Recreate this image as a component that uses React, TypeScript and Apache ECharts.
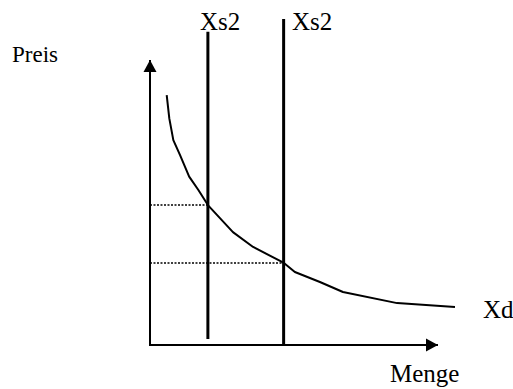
import React, { useEffect, useRef } from "react";
import * as echarts from "echarts";

// Demand curve (Menge, Preis) in chart units
const demandCurve: [number, number][] = [
  [0.58, 8.77], [0.67, 7.95], [0.81, 7.19], [1.04, 6.67], [1.36, 5.91],
  [1.68, 5.44], [2.01, 4.91], [2.88, 3.96], [3.58, 3.44], [4.65, 2.88],
  [5.03, 2.56], [5.9, 2.21], [6.7, 1.86], [8.58, 1.47], [10.59, 1.33],
];
// Supply lines: [x, yFrom, yTo]
const supplyLines: [number, number, number][] = [
  [2.01, 0.21, 10.99],
  [4.64, 0, 11.44],
];
// Dotted price guides: [price, quantity]
const priceGuides: [number, number][] = [
  [4.91, 2.01],
  [2.88, 4.64],
];
const axisEnd = 10;
const axisStart = -0.07;
const labels = { y: "Preis", x: "Menge", demand: "Xd", supply: "Xs2" };

const FONT = "'Liberation Serif', 'Times New Roman', serif";

export default function App() {
  const ref = useRef<HTMLDivElement>(null);
  useEffect(() => {
    const chart = echarts.init(ref.current!, null, { renderer: "svg" });
    const series: any[] = [];
    // axes
    series.push({
      type: "line",
      data: [
        { value: [axisStart, 0], symbol: "none" },
        {
          value: [axisEnd, 0],
          symbol: "triangle",
          symbolSize: [13, 12],
          symbolRotate: -90,
          symbolOffset: [-6, 0],
        },
      ],
      lineStyle: { color: "#000", width: 2 },
      itemStyle: { color: "#000" },
      silent: true,
    });
    series.push({
      type: "line",
      data: [
        { value: [0, 0], symbol: "none" },
        {
          value: [0, axisEnd],
          symbol: "triangle",
          symbolSize: [13, 12],
          symbolOffset: [0, 6],
        },
      ],
      lineStyle: { color: "#000", width: 2 },
      itemStyle: { color: "#000" },
      silent: true,
    });
    // dotted guides
    priceGuides.forEach(([p, q]) => {
      series.push({
        type: "line",
        data: [[0, p], [q, p]],
        showSymbol: false,
        lineStyle: { color: "#000", width: 1.5, type: [2, 1.5] },
        silent: true,
      });
    });
    // supply lines
    supplyLines.forEach(([x, y0, y1]) => {
      series.push({
        type: "line",
        data: [[x, y0], [x, y1]],
        showSymbol: false,
        lineStyle: { color: "#000", width: 3 },
        silent: true,
      });
    });
    // demand
    series.push({
      type: "line",
      data: demandCurve,
      showSymbol: false,
      smooth: false,
      lineStyle: { color: "#000", width: 2 },
      silent: true,
    });

    const txt = (id: string, text: string, x: number, y: number, size: number) => ({
      type: "text",
      id,
      x,
      y,
      style: {
        text,
        fill: "#000",
        fontSize: size,
        fontFamily: FONT,
        align: "left",
        verticalAlign: "middle",
      },
    });

    chart.setOption({
      animation: false,
      backgroundColor: "#fff",
      grid: { left: 150, top: 3, width: 345.6, height: 342 },
      xAxis: { type: "value", min: 0, max: 12, show: false },
      yAxis: { type: "value", min: 0, max: 12, show: false },
      series,
      graphic: {
        elements: [
          txt("s1", labels.supply, 200, 21, 25),
          txt("s2", labels.supply, 292, 21, 25),
          txt("m", labels.x, 390, 373, 25),
          txt("d", labels.demand, 483, 309, 25),
          txt("p", labels.y, 12, 54, 23),
        ],
      },
    });
    return () => chart.dispose();
  }, []);
  return (
    <div
      ref={ref}
      style={{ position: "absolute", left: 0, top: 0, width: 513, height: 389 }}
    />
  );
}
